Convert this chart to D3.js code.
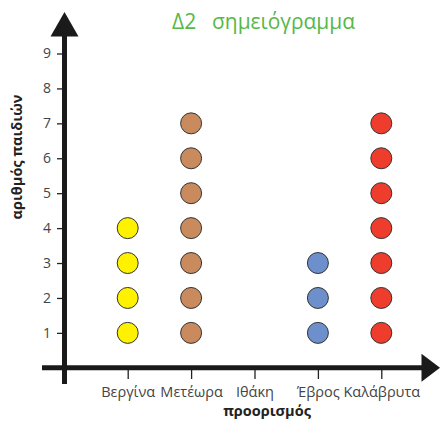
<!DOCTYPE html>
<html><head><meta charset="utf-8">
<script src="https://cdn.jsdelivr.net/npm/d3@7"></script>
<style>body{margin:0;background:#fff}svg{display:block}</style>
</head><body>
<script>
const categories = ["Βεργίνα","Μετέωρα","Ιθάκη","Έβρος","Καλάβρυτα"];
const counts = [4,7,0,3,7];
const yTicks = [1,2,3,4,5,6,7,8,9];
const dotColors = {"Βεργίνα":"#fff200","Μετέωρα":"#c98a5e","Ιθάκη":"#999","Έβρος":"#6d8fcb","Καλάβρυτα":"#ee3d2c"};

const W=440,H=423;
const svg=d3.select("body").append("svg").attr("width",W).attr("height",H);
const font="'Open Sans', 'Noto Sans', sans-serif";

const x=d3.scalePoint().domain(categories).range([127.7,381.3]);
const y=d3.scaleLinear().domain([0,9]).range([367.8,53.5]);

// title
svg.append("text").attr("x",172).attr("y",29)
  .attr("font-family",font).attr("font-size",21).attr("fill","#55b948").text("Δ2");
svg.append("text").attr("x",212).attr("y",29)
  .attr("font-family",font).attr("font-size",21).attr("fill","#55b948")
  .attr("textLength",143).attr("lengthAdjust","spacingAndGlyphs").text("σημειόγραμμα");

// y axis ticks
const ya=svg.append("g").attr("transform","translate(62,0)")
  .call(d3.axisLeft(y).tickValues(yTicks).tickSize(5).tickPadding(6).tickFormat(d3.format("d")));
ya.select(".domain").remove();
ya.selectAll("line").attr("stroke","#222").attr("stroke-width",1.3);
ya.selectAll("text").attr("font-family",font).attr("font-size",14).attr("fill","#444");

// x axis ticks
const xa=svg.append("g").attr("transform","translate(0,370)")
  .call(d3.axisBottom(x).tickSize(9).tickPadding(8));
xa.select(".domain").remove();
xa.selectAll("line").attr("stroke","#222").attr("stroke-width",1.3);
xa.selectAll("text").attr("font-family",font).attr("font-size",14.5).attr("fill","#444");

// axis lines
svg.append("line").attr("x1",64.5).attr("x2",64.5).attr("y1",384).attr("y2",34)
  .attr("stroke","#1a1a1a").attr("stroke-width",5);
svg.append("line").attr("x1",42).attr("x2",424).attr("y1",y(0)).attr("y2",y(0))
  .attr("stroke","#1a1a1a").attr("stroke-width",5);
// arrows
svg.append("path").attr("d",`M64.5,12 L50.5,36.5 L78.5,36.5 Z`).attr("fill","#1a1a1a");
svg.append("path").attr("d",`M440,${y(0)} L421.5,${y(0)-14} L421.5,${y(0)+14} Z`).attr("fill","#1a1a1a");

// dots
const pts=[];
categories.forEach((c,i)=>{for(let k=1;k<=counts[i];k++)pts.push({c,v:k});});
svg.append("g").selectAll("circle").data(pts).join("circle")
  .attr("cx",d=>x(d.c)).attr("cy",d=>y(d.v)).attr("r",10.5)
  .attr("fill",d=>dotColors[d.c]).attr("stroke","#333").attr("stroke-width",1);

// axis titles
svg.append("text").attr("x",267).attr("y",416).attr("text-anchor","middle")
  .attr("font-family",font).attr("font-size",14.5).attr("font-weight","bold").attr("fill","#222")
  .text("προορισμός");
svg.append("text").attr("transform","translate(22,157) rotate(-90)").attr("text-anchor","middle")
  .attr("font-family",font).attr("font-size",14.5).attr("font-weight","bold").attr("fill","#222")
  .text("αριθμός παιδιών");
</script>
</body></html>
